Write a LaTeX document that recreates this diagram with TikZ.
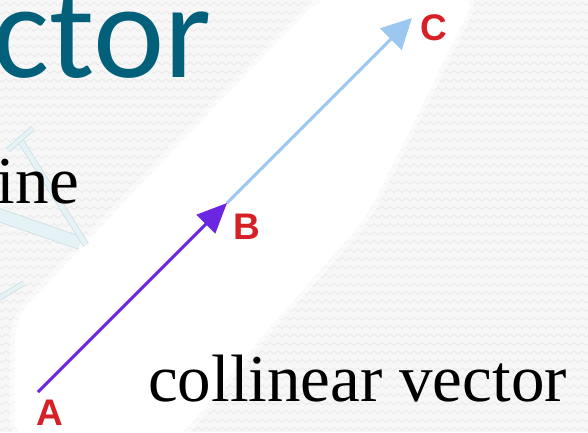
\documentclass[tikz,border=0pt]{standalone}
\usepackage{fontspec}
\setmainfont{Liberation Serif}
\newfontfamily\titlefont{Carlito}
\newfontfamily\labelfont{Liberation Sans}
\usetikzlibrary{arrows.meta,decorations.pathmorphing}

\definecolor{titleteal}{RGB}{2,96,122}
\definecolor{ptred}{RGB}{214,32,38}
\definecolor{vecpurple}{RGB}{108,38,226}
\definecolor{vecblue}{RGB}{156,199,240}
\definecolor{bggray}{RGB}{247,247,247}
\definecolor{wavegray}{RGB}{233,233,233}
\definecolor{tubecyan}{RGB}{230,243,246}
\definecolor{tubeedge}{RGB}{200,220,226}

\begin{document}
\begin{tikzpicture}[
    x=1pt, y=-1pt,
    wave/.style={wavegray, line width=0.8pt, decorate, decoration={zigzag, segment length=8pt, amplitude=1.6pt}},
    tube/.style={draw=tubeedge, double=tubecyan, line width=0.7pt},
    ptlabel/.style={text=ptred, font=\labelfont\bfseries\fontsize{37}{37}\selectfont, inner sep=0pt},
    bigserif/.style={font=\fontsize{67}{70}\selectfont, inner sep=0pt},
    vecab/.style={vecpurple, line width=3pt, -{Triangle[length=30pt, width=26pt]}},
    vecbc/.style={vecblue, line width=3pt, -{Triangle[length=30pt, width=30pt]}}
]
\useasboundingbox (0,0) rectangle (588,432);
\clip (0,0) rectangle (588,432);

% Background
\fill[bggray] (0,0) rectangle (588,432);
\foreach \y in {4,12.5,...,432}
  \draw[wave] (-4,\y) -- (592,\y);

% White band behind the vectors
\path[fill=white, draw=white, draw opacity=0.5, line width=10pt, rounded corners=20pt]
  (15,440) -- (15,318) -- (80,250) -- (128,198) -- (322,-4) -- (476,-4)
  -- (366,218) -- (250,350) -- (178,440) -- cycle;

% Pale tubes at the left edge
\draw[tube, double distance=12pt] (-4,214) -- (80,243);
\draw[tube, double distance=5pt] (20,140) -- (86,245);
\draw[tube, double distance=4pt] (8,150) -- (33,128);
\draw[tube, double distance=4pt] (-4,300) -- (24,283);

% Texts
\node[anchor=base east, text=titleteal, font=\titlefont\fontsize{135}{140}\selectfont, inner sep=0pt] (title) at (212,77) {ctor};
\node[bigserif, anchor=base east] (line) at (79,203) {ine};
\node[bigserif, anchor=base west] (caption) at (148,401) {collinear vector};

% Points
\coordinate (A) at (38,392);
\coordinate (B) at (227,203);
\coordinate (C) at (412,18);
\node[ptlabel] (labelA) at (50,413) {A};
\node[ptlabel] (labelB) at (247,227) {B};
\node[ptlabel] (labelC) at (434,28) {C};

% Vectors
\draw[vecbc] (B) -- (C);
\draw[vecab] (A) -- (B);

\end{tikzpicture}
\end{document}
